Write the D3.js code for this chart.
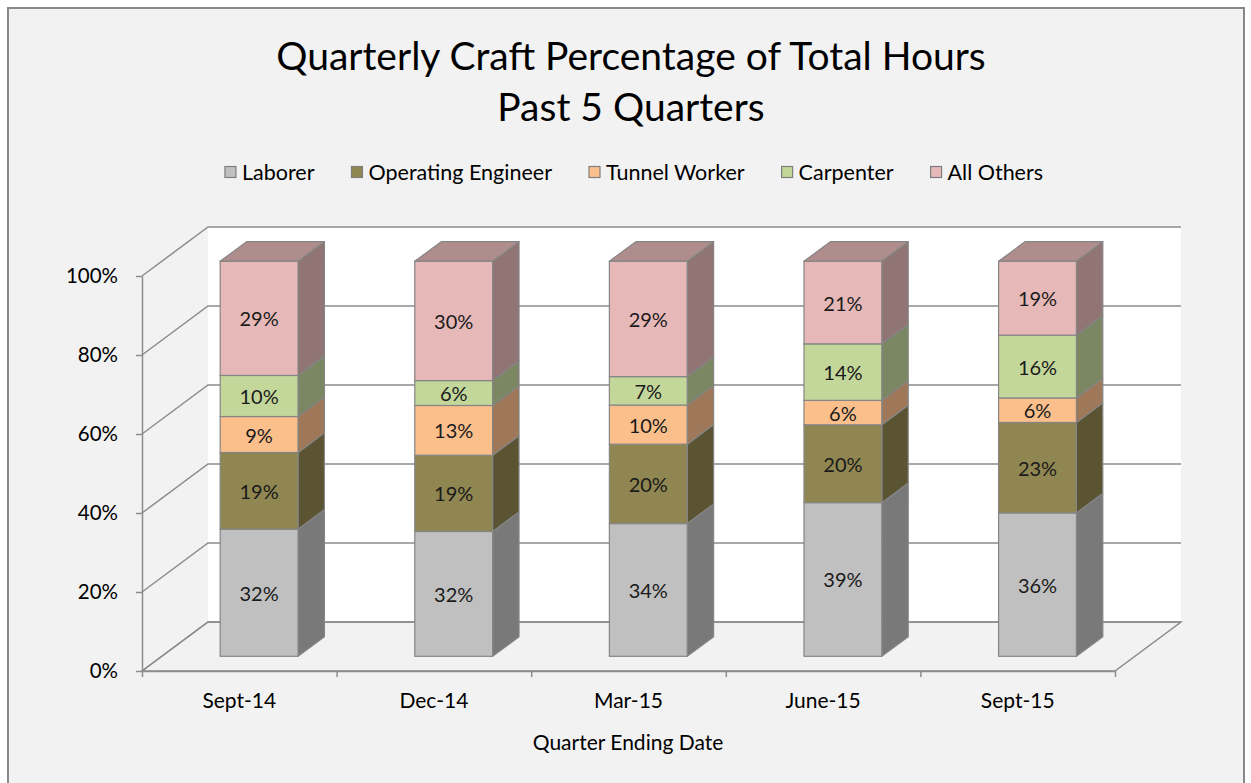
<!DOCTYPE html>
<html><head><meta charset="utf-8">
<script src="https://cdn.jsdelivr.net/npm/d3@7"></script>
<style>
body{margin:0;background:#fff;}
svg{display:block;font-family:Lato,'Open Sans',sans-serif;}
</style>
</head><body>
<svg id="chart" width="1251" height="783"></svg>
<script>
// ---- data ----
const categories = ["Sept-14","Dec-14","Mar-15","June-15","Sept-15"];
const seriesNames = ["Laborer","Operating Engineer","Tunnel Worker","Carpenter","All Others"];
const laborer           = [32.2, 31.6, 33.6, 38.9, 36.3];
const operatingEngineer = [19.4, 19.3, 20.1, 19.7, 22.9];
const tunnelWorker      = [ 9.1, 12.6,  9.9,  6.2,  6.2];
const carpenter         = [10.4,  6.3,  7.2, 14.3, 15.9];
const allOthers         = [28.9, 30.2, 29.2, 20.9, 18.7];
const yTicks = [0, 0.2, 0.4, 0.6, 0.8, 1.0];
const titleLines = ["Quarterly Craft Percentage of Total Hours", "Past 5 Quarters"];
const xAxisTitle = "Quarter Ending Date";

// ---- styles ----
const frontColors = ["#C0C0C0","#8F8651","#FBBF8C","#C4D79B","#E6B9B8"];
const shade = (c, k) => { const r = d3.rgb(c); return d3.rgb(r.r*k, r.g*k, r.b*k).formatHex(); };
const edge = "#858585";

const seriesValues = [laborer, operatingEngineer, tunnelWorker, carpenter, allOthers];
const rows = categories.map((c, i) => {
  const o = {cat: c};
  seriesNames.forEach((s, j) => o[s] = seriesValues[j][i]);
  return o;
});
const stacked = d3.stack().keys(seriesNames).offset(d3.stackOffsetExpand)(rows);

const svg = d3.select("#chart");

// background frame
svg.append("rect").attr("x", 8).attr("y", 8).attr("width", 1236).attr("height", 800)
  .attr("fill", "#F2F2F2").attr("stroke", "#888").attr("stroke-width", 2);

// geometry
const X0 = 142, X1 = 1115;
const DX = 66, DY = -49;           // full depth offset
const zFront = 0.3, zBack = 0.7;   // bar depth position
const y = d3.scaleLinear().domain([0, 1]).range([671, 276]);
const xBand = d3.scaleBand().domain(categories).range([X0, X1]).paddingInner(0.6).paddingOuter(0.3);
const xEdge = d3.scaleLinear().domain([0, categories.length]).range([X0, X1]);
const P = (x, yy, z) => [x + z * DX, yy + z * DY];
const poly = pts => "M" + pts.map(p => p.join(",")).join("L") + "Z";

// back wall
svg.append("path").attr("d", poly([P(X0, y(0), 1), P(X1, y(0), 1), P(X1, y(1), 1), P(X0, y(1), 1)]))
  .attr("fill", "#FFFFFF");

// floor
svg.append("path").attr("d", poly([P(X0, y(0), 0), P(X1, y(0), 0), P(X1, y(0), 1), P(X0, y(0), 1)]))
  .attr("fill", "#F2F2F2").attr("stroke", "#8C8C8C").attr("stroke-width", 1.5);

// gridlines (side wall diagonal + back wall horizontal)
svg.append("g").selectAll("path").data(yTicks).join("path")
  .attr("d", t => "M" + P(X0, y(t), 0).join(",") + "L" + P(X0, y(t), 1).join(",") + "L" + P(X1, y(t), 1).join(","))
  .attr("fill", "none").attr("stroke", "#8C8C8C").attr("stroke-width", 1.5);

// y axis
const yAxis = svg.append("g").attr("transform", `translate(${X0},0)`)
  .call(d3.axisLeft(y).tickValues(yTicks).tickFormat(d3.format(".0%")).tickSize(6).tickSizeOuter(0).tickPadding(18));
yAxis.select(".domain").attr("stroke", "#8C8C8C").attr("stroke-width", 1.5);
yAxis.selectAll(".tick line").attr("stroke", "#8C8C8C").attr("stroke-width", 1.5);
yAxis.selectAll(".tick text").attr("font-size", 20.5).attr("fill", "#000").attr("font-family", "Lato");

// x axis ticks at category boundaries
const xAxisG = svg.append("g").attr("transform", `translate(0,${y(0)})`)
  .call(d3.axisBottom(xEdge).tickValues(d3.range(categories.length + 1)).tickFormat("").tickSize(6).tickSizeOuter(0));
xAxisG.select(".domain").attr("stroke", "#8C8C8C").attr("stroke-width", 1.5);
xAxisG.selectAll(".tick line").attr("stroke", "#8C8C8C").attr("stroke-width", 1.5);
// category labels
const xLab = svg.append("g").attr("transform", `translate(0,${y(0)})`)
  .call(d3.axisBottom(xBand).tickSize(0).tickPadding(22));
xLab.select(".domain").remove();
xLab.selectAll(".tick text").attr("font-size", 21).attr("fill", "#000").attr("font-family", "Lato");

// bars
const bw = xBand.bandwidth();
const barsG = svg.append("g");
categories.forEach((cat, i) => {
  const xl = xBand(cat), xr = xl + bw;
  stacked.forEach((layer, j) => {
    const v0 = layer[i][0], v1 = layer[i][1];
    const col = frontColors[j];
    const g = barsG.append("g");
    // side
    g.append("path").attr("d", poly([P(xr, y(v0), zFront), P(xr, y(v0), zBack), P(xr, y(v1), zBack), P(xr, y(v1), zFront)]))
      .attr("fill", shade(col, 0.63)).attr("stroke", edge).attr("stroke-width", 1.2).attr("stroke-linejoin", "round");
    // top (only top segment visible)
    if (j === stacked.length - 1) {
      g.append("path").attr("d", poly([P(xl, y(v1), zFront), P(xr, y(v1), zFront), P(xr, y(v1), zBack), P(xl, y(v1), zBack)]))
        .attr("fill", shade(col, 0.76)).attr("stroke", edge).attr("stroke-width", 1.2).attr("stroke-linejoin", "round");
    }
    // front
    const a = P(xl, y(v1), zFront), b = P(xr, y(v0), zFront);
    g.append("rect").attr("x", a[0]).attr("y", a[1]).attr("width", b[0] - a[0]).attr("height", b[1] - a[1])
      .attr("fill", col).attr("stroke", edge).attr("stroke-width", 1.2);
    // label
    g.append("text").attr("x", (a[0] + b[0]) / 2).attr("y", (a[1] + b[1]) / 2)
      .attr("text-anchor", "middle").attr("dominant-baseline", "central")
      .attr("font-size", 20).attr("fill", "#1a1a1a")
      .text(d3.format(".0%")(seriesValues[j][i] / 100));
  });
});

// title
svg.append("g").selectAll("text").data(titleLines).join("text")
  .attr("x", 631).attr("y", (d, i) => 70 + i * 51)
  .attr("text-anchor", "middle").attr("font-size", 39).attr("fill", "#000")
  .text(d => d);

// legend
const legend = svg.append("g");
let lx = 0;
const lgap = 37;
seriesNames.forEach((s, j) => {
  const it = legend.append("g").attr("transform", `translate(${lx},0)`);
  it.append("rect").attr("x", 0).attr("y", -5.5).attr("width", 11).attr("height", 11)
    .attr("fill", frontColors[j]).attr("stroke", "#7f7f7f").attr("stroke-width", 1.2);
  const t = it.append("text").attr("x", 17).attr("y", 0).attr("dominant-baseline", "central")
    .attr("font-size", 21.5).attr("fill", "#000").text(s);
  lx += 17 + t.node().getComputedTextLength() + lgap;
});
const lw = lx - lgap;
legend.attr("transform", `translate(${634 - lw / 2},172)`);

// x axis title
svg.append("text").attr("x", 628).attr("y", 741).attr("text-anchor", "middle")
  .attr("dominant-baseline", "central").attr("font-size", 21).attr("fill", "#000").text(xAxisTitle);
</script>
</body></html>
